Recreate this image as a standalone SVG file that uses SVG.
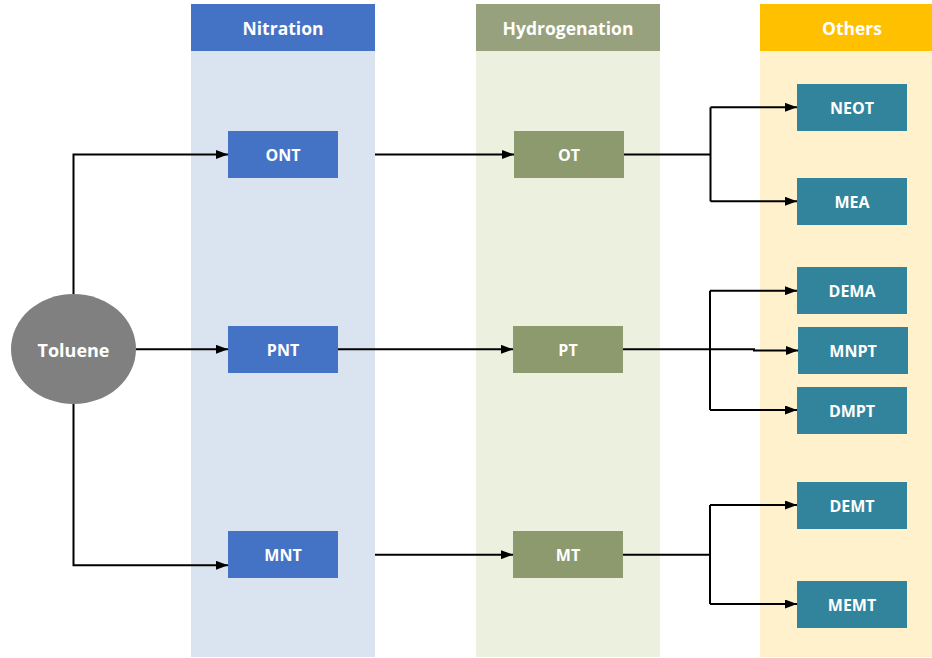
<svg xmlns="http://www.w3.org/2000/svg" width="932" height="658" viewBox="0 0 932 658">
<defs>
<marker id="arr" viewBox="0 0 12 9" refX="12" refY="4.5" markerWidth="12" markerHeight="9" markerUnits="userSpaceOnUse" orient="auto">
<path d="M0,0 L12,4.5 L0,9 Z" fill="#000"/>
</marker>
<style>
text{font-family:"Open Sans","Liberation Sans",sans-serif;font-weight:bold;fill:#fff;text-anchor:middle}
.hd{font-size:17.5px}
.nd{font-size:16px}
.big{font-size:18px}
.blue{fill:#4472C4}
.olive{fill:#8C9A6E}
.teal{fill:#31849B}
.conn path{fill:none;stroke:#000;stroke-width:2}
</style>
</defs>
<rect width="932" height="658" fill="#fff"/>
<g id="lane-nitration">
<rect x="191" y="51" width="184" height="606" fill="#DAE3F0"/>
<rect x="191" y="4" width="184" height="47" fill="#4472C4"/>
<text class="hd" x="283" y="35">Nitration</text>
</g>
<g id="lane-hydrogenation">
<rect x="476" y="51" width="184" height="606" fill="#EBF1DE"/>
<rect x="476" y="4" width="184" height="47" fill="#97A17D"/>
<text class="hd" x="568" y="35">Hydrogenation</text>
</g>
<g id="lane-others">
<rect x="760" y="51" width="172" height="606" fill="#FFF1CC"/>
<rect x="760" y="4" width="172" height="47" fill="#FFC000"/>
<text class="hd" x="852" y="35">Others</text>
</g>
<g class="conn" id="connectors">
<path d="M73.5,294 V154.5 H228" marker-end="url(#arr)"/>
<path d="M136,349.3 H228" marker-end="url(#arr)"/>
<path d="M73.5,404 V565.3 H228" marker-end="url(#arr)"/>
<path d="M375,154.5 H514" marker-end="url(#arr)"/>
<path d="M338,349.3 H513" marker-end="url(#arr)"/>
<path d="M375,554.7 H513" marker-end="url(#arr)"/>
<path d="M624,154.5 H710.5"/>
<path d="M710.5,107.3 V201.3"/>
<path d="M710.5,107.3 H797" marker-end="url(#arr)"/>
<path d="M710.5,201.3 H797" marker-end="url(#arr)"/>
<path d="M623,349.3 H710"/>
<path d="M710,290.7 V410"/>
<path d="M710,290.7 H797" marker-end="url(#arr)"/>
<path d="M710,349.3 H754 V350.5 H798" marker-end="url(#arr)"/>
<path d="M710,410 H797" marker-end="url(#arr)"/>
<path d="M623,554.7 H710"/>
<path d="M710,505 V604"/>
<path d="M710,505 H797" marker-end="url(#arr)"/>
<path d="M710,604 H797" marker-end="url(#arr)"/>
</g>
<g id="toluene">
<ellipse cx="73.5" cy="349" rx="62.5" ry="55" fill="#808080"/>
<text class="big" x="73.5" y="357">Toluene</text>
</g>
<g id="ont"><rect class="blue" x="228" y="131" width="110" height="47"/><text class="nd" x="283" y="161">ONT</text></g>
<g id="pnt"><rect class="blue" x="228" y="326" width="110" height="47"/><text class="nd" x="283" y="356">PNT</text></g>
<g id="mnt"><rect class="blue" x="228" y="531" width="110" height="47"/><text class="nd" x="283" y="561">MNT</text></g>
<g id="ot"><rect class="olive" x="514" y="131" width="110" height="47"/><text class="nd" x="569" y="161">OT</text></g>
<g id="pt"><rect class="olive" x="513" y="326" width="110" height="47"/><text class="nd" x="568" y="356">PT</text></g>
<g id="mt"><rect class="olive" x="513" y="531" width="110" height="47"/><text class="nd" x="568" y="561">MT</text></g>
<g id="neot"><rect class="teal" x="797" y="84" width="110" height="47"/><text class="nd" x="852" y="114">NEOT</text></g>
<g id="mea"><rect class="teal" x="797" y="178" width="110" height="47"/><text class="nd" x="852" y="208">MEA</text></g>
<g id="dema"><rect class="teal" x="797" y="267" width="110" height="47"/><text class="nd" x="852" y="297">DEMA</text></g>
<g id="mnpt"><rect class="teal" x="798" y="327" width="110" height="47"/><text class="nd" x="853" y="357">MNPT</text></g>
<g id="dmpt"><rect class="teal" x="797" y="387" width="110" height="47"/><text class="nd" x="852" y="417">DMPT</text></g>
<g id="demt"><rect class="teal" x="797" y="482" width="110" height="47"/><text class="nd" x="852" y="512">DEMT</text></g>
<g id="memt"><rect class="teal" x="797" y="581" width="110" height="47"/><text class="nd" x="852" y="611">MEMT</text></g>
</svg>
